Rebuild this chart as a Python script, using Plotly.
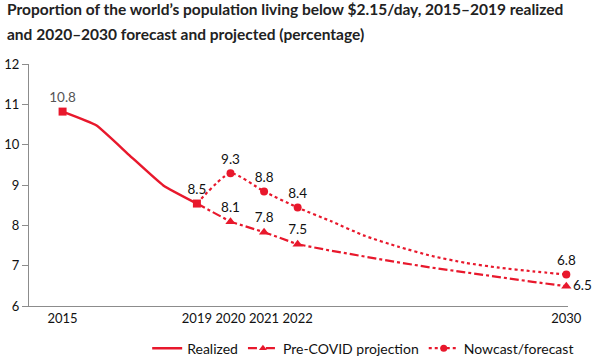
import plotly.graph_objects as go

RED = "#e8182c"

realized_years = [2015, 2016, 2017, 2018, 2019]
realized_vals = [10.82, 10.48, 9.73, 8.99, 8.54]

precovid_years = [2019, 2020, 2021, 2022, 2023, 2024, 2025, 2026, 2027, 2028, 2029, 2030]
precovid_vals = [8.54, 8.09, 7.83, 7.53, 7.37, 7.22, 7.08, 6.95, 6.83, 6.72, 6.60, 6.49]

nowcast_years = [2019, 2020, 2021, 2022, 2023, 2024, 2025, 2026, 2027, 2028, 2029, 2030]
nowcast_vals = [8.54, 9.29, 8.84, 8.44, 8.10, 7.74, 7.47, 7.24, 7.07, 6.95, 6.86, 6.78]

realized_mark_years = [2015, 2019]
realized_mark_vals = [10.82, 8.54]
realized_labels = ["10.8", "8.5"]

precovid_mark_years = [2020, 2021, 2022, 2030]
precovid_mark_vals = [8.09, 7.83, 7.53, 6.49]
precovid_labels = ["8.1", "7.8", "7.5", "6.5"]

nowcast_mark_years = [2020, 2021, 2022, 2030]
nowcast_mark_vals = [9.29, 8.84, 8.44, 6.78]
nowcast_labels = ["9.3", "8.8", "8.4", "6.8"]

x_ticks = [2015, 2019, 2020, 2021, 2022, 2030]
y_ticks = [6, 7, 8, 9, 10, 11, 12]

title_lines = [
    "Proportion of the world’s population living below $2.15/day, 2015–2019 realized",
    "and 2020–2030 forecast and projected (percentage)",
]

FONT = "Lato"
fig = go.Figure()

# lines
fig.add_trace(go.Scatter(x=nowcast_years, y=nowcast_vals, mode="lines",
                         line=dict(color=RED, width=2.2, dash="dot", shape="spline", smoothing=0.6),
                         showlegend=False, hoverinfo="skip"))
fig.add_trace(go.Scatter(x=precovid_years, y=precovid_vals, mode="lines",
                         line=dict(color=RED, width=2.2, dash="dashdot"),
                         showlegend=False, hoverinfo="skip"))
fig.add_trace(go.Scatter(x=realized_years, y=realized_vals, mode="lines",
                         line=dict(color=RED, width=2.5, shape="spline", smoothing=0.4),
                         showlegend=False, hoverinfo="skip"))

# markers + labels
fig.add_trace(go.Scatter(x=realized_mark_years, y=realized_mark_vals, mode="markers+text",
                         marker=dict(symbol="square", size=8, color=RED),
                         text=realized_labels, textposition="top center",
                         textfont=dict(family=FONT, size=13.5, color=["#555555", "#111111"]),
                         cliponaxis=False, showlegend=False))
fig.add_trace(go.Scatter(x=precovid_mark_years, y=precovid_mark_vals, mode="markers+text",
                         marker=dict(symbol="triangle-up", size=9, color=RED),
                         text=precovid_labels,
                         textposition=["top center", "top center", "top center", "middle right"],
                         textfont=dict(family=FONT, size=13.5, color="#111111"),
                         cliponaxis=False, showlegend=False))
fig.add_trace(go.Scatter(x=nowcast_mark_years, y=nowcast_mark_vals, mode="markers+text",
                         marker=dict(symbol="circle", size=8, color=RED),
                         text=nowcast_labels, textposition="top center",
                         textfont=dict(family=FONT, size=13.5, color="#111111"),
                         cliponaxis=False, showlegend=False))

# legend entries
fig.add_trace(go.Scatter(x=[None], y=[None], mode="lines", name="Realized",
                         line=dict(color=RED, width=2.5)))
fig.add_trace(go.Scatter(x=[None], y=[None], mode="lines+markers", name="Pre-COVID projection",
                         line=dict(color=RED, width=2.2, dash="dash"),
                         marker=dict(symbol="triangle-up", size=7, color=RED)))
fig.add_trace(go.Scatter(x=[None], y=[None], mode="lines+markers", name="Nowcast/forecast",
                         line=dict(color=RED, width=2.2, dash="dot"),
                         marker=dict(symbol="circle", size=7, color=RED)))

for i, line in enumerate(title_lines):
    fig.add_annotation(text="<b>" + line + "</b>", xref="paper", yref="paper",
                       x=-29 / 539, xanchor="left", xshift=5,
                       y=1, yanchor="middle", yshift=(64.5 - 9) - 25.5 * i,
                       showarrow=False,
                       font=dict(family=FONT, size=15.5, color="#222222"))

fig.update_layout(
    width=605, height=364,
    margin=dict(l=29, r=37, t=64, b=58, autoexpand=False),
    paper_bgcolor="white", plot_bgcolor="white",
    font=dict(family=FONT, size=13, color="#111111"),
    xaxis=dict(range=[2014, 2030.05], tickmode="array", tickvals=x_ticks,
               ticktext=[str(t) for t in x_ticks], automargin=False,
               showgrid=False, zeroline=False, showline=True, linecolor="#8c8c8c", linewidth=1.2,
               ticks="", tickfont=dict(family=FONT, size=13, color="#111111")),
    yaxis=dict(range=[6, 12], tickmode="array", tickvals=y_ticks, automargin=False,
               showgrid=False, zeroline=False, showline=True, linecolor="#8c8c8c", linewidth=1.2,
               ticks="outside", ticklen=6, tickcolor="#8c8c8c",
               tickfont=dict(family=FONT, size=13, color="#111111")),
    legend=dict(orientation="h", x=0.62, xanchor="center", y=-0.11, yanchor="top",
                font=dict(family=FONT, size=14, color="#111111"), itemwidth=30),
)

fig.write_html("out.html", config={"displayModeBar": False},
               post_script="document.body.style.margin='0px';document.body.style.overflow='hidden';")
